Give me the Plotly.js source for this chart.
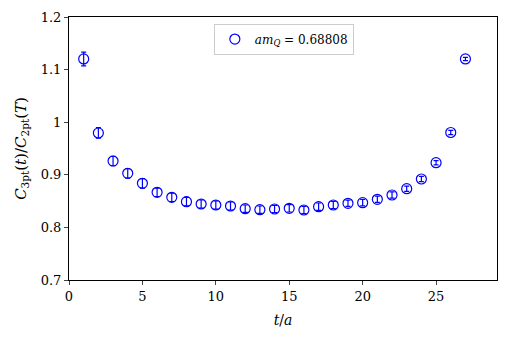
<!DOCTYPE html>
<html>
<head>
<meta charset="utf-8">
<script src="https://cdn.plot.ly/plotly-3.0.1.min.js"></script>
<style>html,body{margin:0;padding:0;background:#fff;}#chart{width:515px;height:343px;}</style>
</head>
<body>
<div id="chart"></div>
<script>
const tValues = [1,2,3,4,5,6,7,8,9,10,11,12,13,14,15,16,17,18,19,20,21,22,23,24,25,26,27];
const ratio = [1.1202,0.9795,0.9262,0.9028,0.8838,0.8667,0.8572,0.8489,0.8445,0.8426,0.8407,0.8356,0.8337,0.8350,0.8363,0.8331,0.8394,0.8426,0.8458,0.8470,0.8534,0.8616,0.8736,0.8920,0.9230,0.9804,1.1202];
const ratioErr = [0.013,0.010,0.009,0.009,0.009,0.008,0.008,0.008,0.008,0.008,0.008,0.007,0.007,0.007,0.007,0.007,0.007,0.007,0.006,0.006,0.006,0.006,0.005,0.005,0.004,0.004,0.003];
const legendLabel = '<i>am</i><sub><i>Q</i></sub> = 0.68808';
const xTicks = [0,5,10,15,20,25];
const yTicks = [0.7,0.8,0.9,1.0,1.1,1.2];
const yTickText = ['0.7','0.8','0.9','1','1.1','1.2'];

const font = 'DejaVu Serif, serif';
const trace = {
  x: tValues, y: ratio, type: 'scatter', mode: 'markers', name: legendLabel,
  marker: {symbol: 'circle-open', size: 10, color: 'blue', line: {width: 1.2, color: 'blue'}},
  error_y: {type: 'data', array: ratioErr, visible: true, color: 'blue', thickness: 1.2, width: 2.5}
};
const layout = {
  width: 515, height: 343,
  margin: {l: 69, r: 18, t: 17, b: 63},
  paper_bgcolor: '#fff', plot_bgcolor: '#fff',
  font: {family: font, size: 13, color: '#000'},
  showlegend: true,
  legend: {x: 0.502, y: 0.975, xanchor: 'center', yanchor: 'top', bordercolor: '#cccccc', borderwidth: 1, bgcolor: 'rgba(255,255,255,0.8)', font: {family: font, size: 12}},
  xaxis: {range: [0, 29.15], tickvals: xTicks, ticks: 'outside', ticklen: 4, tickwidth: 1, showline: true, linecolor: '#000', linewidth: 1, mirror: true, showgrid: false, zeroline: false,
    title: {text: '<i>t</i>/<i>a</i>', font: {family: font, size: 14}, standoff: 12}},
  yaxis: {range: [0.7, 1.2], tickvals: yTicks, ticktext: yTickText, ticks: 'outside', ticklen: 4, tickwidth: 1, showline: true, linecolor: '#000', linewidth: 1, mirror: true, showgrid: false, zeroline: false,
    title: {text: '<i>C</i><sub>3pt</sub>(<i>t</i>)/<i>C</i><sub>2pt</sub>(<i>T</i>)', font: {family: font, size: 15}, standoff: 10}}
};
Plotly.newPlot('chart', [trace], layout, {staticPlot: true, displayModeBar: false});
</script>
</body>
</html>
